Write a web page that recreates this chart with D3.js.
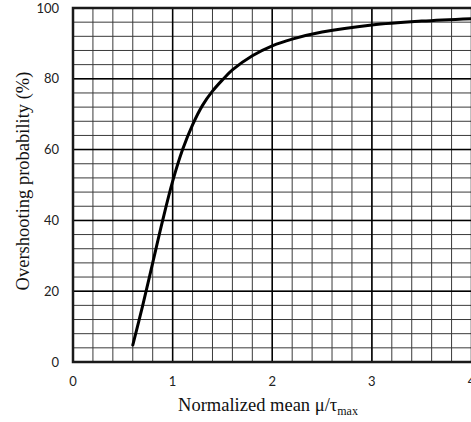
<!DOCTYPE html>
<html>
<head>
<meta charset="utf-8">
<script src="https://cdn.jsdelivr.net/npm/d3@7"></script>
<style>
  body { margin: 0; background: #fff; }
  svg { display: block; }
</style>
</head>
<body>
<svg id="chart"></svg>
<script>
var width = 471,
    height = 422

// curve
var muRatio = [0.6, 0.7, 0.8, 0.9, 1.0, 1.1, 1.2, 1.3, 1.4, 1.5, 1.6, 1.8, 2.0, 2.2, 2.5, 3.0, 3.5, 4.0]
var overshoot = [4.8, 16, 28, 40, 51, 60, 67, 72.5, 76.5, 79.7, 82.5, 86.5, 89.3, 91.2, 93.2, 95.2, 96.3, 97.0]

var xTicks = [0, 1, 2, 3, 4]
var yTicks = [0, 20, 40, 60, 80, 100]

var plotLeft = 73, plotRight = 471.5, plotTop = 8, plotBottom = 362

var svg = d3.select("svg#chart")
    .attr("width", width)
    .attr("height", height)

var x = d3.scaleLinear().domain([0, 4]).range([plotLeft, plotRight])
var y = d3.scaleLinear().domain([0, 100]).range([plotBottom, plotTop])

// minor grid
var xMinor = d3.range(0, 4.01, 0.2)
var yMinor = d3.range(0, 100.1, 4)

svg.append("g").selectAll("line")
    .data(xMinor)
    .enter().append("line")
    .attr("x1", function(d){ return x(d) })
    .attr("x2", function(d){ return x(d) })
    .attr("y1", plotTop)
    .attr("y2", plotBottom)
    .attr("stroke", "#3a3a3a")
    .attr("stroke-width", 1)

svg.append("g").selectAll("line")
    .data(yMinor)
    .enter().append("line")
    .attr("x1", plotLeft)
    .attr("x2", width)
    .attr("y1", function(d){ return y(d) })
    .attr("y2", function(d){ return y(d) })
    .attr("stroke", "#3a3a3a")
    .attr("stroke-width", 1)

// major grid
svg.append("g").selectAll("line")
    .data(xTicks)
    .enter().append("line")
    .attr("x1", function(d){ return x(d) })
    .attr("x2", function(d){ return x(d) })
    .attr("y1", plotTop)
    .attr("y2", plotBottom)
    .attr("stroke", "#000")
    .attr("stroke-width", 1.5)

svg.append("g").selectAll("line")
    .data(yTicks)
    .enter().append("line")
    .attr("x1", plotLeft)
    .attr("x2", width)
    .attr("y1", function(d){ return y(d) })
    .attr("y2", function(d){ return y(d) })
    .attr("stroke", "#000")
    .attr("stroke-width", 1.5)

// frame: top, left, bottom
svg.append("path")
    .attr("d", "M" + width + "," + plotTop + "H" + plotLeft + "V" + plotBottom + "H" + width)
    .attr("fill", "none")
    .attr("stroke", "#1a1a1a")
    .attr("stroke-width", 2.5)

// curve
var line = d3.line()
    .x(function(d){ return x(d[0]) })
    .y(function(d){ return y(d[1]) })
    .curve(d3.curveCatmullRom)

svg.append("path")
    .datum(d3.zip(muRatio, overshoot))
    .attr("d", line)
    .attr("fill", "none")
    .attr("stroke", "#000")
    .attr("stroke-width", 3)
    .attr("stroke-linecap", "round")

// tick labels
svg.append("g").selectAll("text")
    .data(yTicks)
    .enter().append("text")
    .attr("x", 59)
    .attr("y", function(d){ return y(d) + 4.5 })
    .attr("text-anchor", "end")
    .attr("font-family", "Lato, 'Open Sans', sans-serif")
    .attr("font-size", 13)
    .attr("fill", "#222")
    .text(function(d){ return d })

svg.append("g").selectAll("text")
    .data(xTicks)
    .enter().append("text")
    .attr("x", function(d){ return x(d) })
    .attr("y", 386)
    .attr("text-anchor", "middle")
    .attr("font-family", "Lato, 'Open Sans', sans-serif")
    .attr("font-size", 13)
    .attr("fill", "#222")
    .text(function(d){ return d })

// axis titles
var xt = svg.append("text")
    .attr("x", 268)
    .attr("y", 411)
    .attr("text-anchor", "middle")
    .attr("font-family", "'Liberation Serif', 'Times New Roman', serif")
    .attr("font-size", 18.5)
    .attr("fill", "#111")
xt.append("tspan").text("Normalized mean \u03bc/\u03c4")
xt.append("tspan").attr("font-size", 12).attr("dy", 4).text("max")

svg.append("text")
    .attr("transform", "translate(29," + 181 + ") rotate(-90)")
    .attr("text-anchor", "middle")
    .attr("font-family", "'Liberation Serif', 'Times New Roman', serif")
    .attr("font-size", 18.5)
    .attr("fill", "#111")
    .text("Overshooting probability (%)")
</script>
</body>
</html>
